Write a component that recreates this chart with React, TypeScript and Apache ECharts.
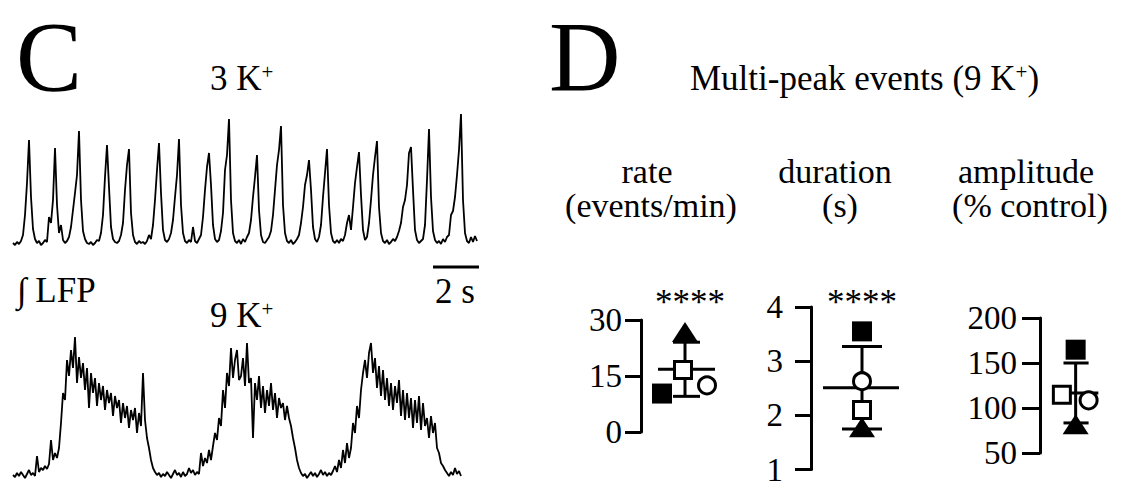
import React, { useEffect, useRef } from 'react';
import * as echarts from 'echarts';

const FONT = 'Liberation Serif';

// Panel C: integrated LFP traces (height above baseline, one sample every ~0.09 s)
const trace3K = [
  2, 0, 3, 1, 4, 10, 30, 62, 105, 48,
  16, 6, 2, 4, 0, 2, 5, 3, 28, 22,
  45, 97, 40, 12, 20, 5, 2, 4, 8, 18,
  35, 52, 70, 114, 45, 14, 6, 2, 1, 3,
  0, 2, 5, 4, 12, 30, 68, 100, 58, 18,
  6, 3, 2, 4, 10, 22, 55, 80, 96, 32,
  10, 3, 1, 4, 2, 3, 1, 4, 10, 6,
  20, 45, 75, 102, 52, 15, 5, 3, 6, 12,
  25, 48, 70, 106, 40, 12, 4, 2, 5, 3,
  18, 4, 2, 6, 10, 28, 55, 78, 92, 60,
  20, 6, 3, 5, 14, 32, 75, 90, 126, 45,
  12, 4, 2, 5, 1, 6, 3, 8, 12, 25,
  48, 68, 90, 35, 10, 3, 2, 5, 8, 14,
  30, 55, 80, 95, 119, 40, 12, 4, 2, 5,
  1, 3, 6, 10, 22, 38, 60, 70, 85, 55,
  18, 6, 3, 8, 20, 48, 72, 96, 40, 12,
  4, 2, 5, 2, 6, 4, 10, 22, 30, 15,
  38, 62, 78, 93, 50, 15, 5, 8, 22, 45,
  70, 88, 104, 38, 12, 4, 2, 5, 1, 3,
  6, 4, 8, 14, 22, 38, 45, 60, 92, 98,
  55, 15, 5, 2, 4, 6, 20, 65, 116, 48,
  14, 5, 2, 4, 1, 6, 3, 8, 10, 30,
  34, 48, 70, 95, 131, 45, 12, 4, 2, 8,
  3, 9, 4,
];

const trace9K = [
  3, 1, 5, 2, 6, 3, 0, 4, 8, 3,
  5, 2, 22, 6, 10, 8, 12, 9, 14, 38,
  18, 25, 20, 30, 55, 85, 78, 118, 102, 128,
  110, 141, 95, 121, 100, 115, 88, 110, 70, 105,
  85, 100, 72, 95, 78, 92, 68, 88, 75, 85,
  62, 82, 70, 78, 55, 75, 60, 72, 50, 68,
  58, 70, 45, 65, 52, 105, 58, 40, 30, 18,
  10, 6, 3, 5, 1, 4, 2, 6, 3, 0,
  4, 8, 3, 5, 1, 6, 2, 4, 10, 5,
  8, 3, 6, 4, 25, 12, 20, 15, 28, 18,
  32, 45, 38, 60, 52, 88, 70, 105, 92, 130,
  100, 118, 128, 98, 102, 120, 92, 135, 95, 100,
  40, 95, 78, 102, 70, 92, 65, 88, 72, 95,
  68, 85, 60, 80, 70, 75, 58, 72, 60, 52,
  40, 30, 18, 10, 5, 2, 4, 0, 3, 6,
  2, 5, 1, 4, 8, 3, 6, 2, 5, 3,
  7, 12, 6, 18, 10, 28, 15, 35, 20, 30,
  55, 45, 72, 60, 88, 105, 118, 100, 125, 135,
  105, 120, 90, 112, 82, 108, 78, 100, 72, 95,
  68, 92, 75, 98, 62, 88, 58, 85, 60, 80,
  50, 78, 55, 82, 48, 75, 52, 60, 40, 62,
  45, 55, 30, 25, 15, 12, 8, 5, 2, 6,
  3, 10, 4, 7, 2,
];

// Panel D: markers order = filled square, open square, filled triangle, open circle
const rateValues = [10.3, 16.6, 26.8, 12.5];
const durationValues = [3.55, 2.1, 1.78, 2.63];
const amplitudeValues = [164.8, 114.8, 82, 108.5];
const meanValues = [16.8, 2.51, 116.7];
const sdValues = [7.25, 0.76, 33.3];
const panelTitles = [
  ['rate', '(events/min)'],
  ['duration', '(s)'],
  ['amplitude', '(% control)'],
];
const yMins = [0, 1, 50];
const yMaxs = [30, 4, 200];
const yIntervals = [15, 1, 50];
const significance = ['****', '****', ''];

const panelValues = [rateValues, durationValues, amplitudeValues];

const layouts = [
  { left: 641, top: 320, height: 112, margin: 19, tick: 16, xs: [21, 42, 44, 66], bar: 44, mean: [17, 74], cap: [32, 59], titleX: [647, 651], starsX: 690 },
  { left: 811, top: 307, height: 168, margin: 28, tick: 16, xs: [51, 51, 51, 51], bar: 51, mean: [12, 88], cap: [31, 71], titleX: [835, 840], starsX: 862 },
  { left: 1040, top: 318, height: 135, margin: 23, tick: 18, xs: [44, 27, 44, 60], bar: 44, mean: [16, 72], cap: [29, 60], titleX: [1026, 1030], starsX: 0 },
];

const markerStyles = [
  { symbol: 'rect', symbolSize: [20, 20], itemStyle: { color: '#000', opacity: 1 } },
  { symbol: 'rect', symbolSize: [17, 17], itemStyle: { color: '#fff', borderColor: '#000', borderWidth: 3, opacity: 1 } },
  { symbol: 'triangle', symbolSize: [26, 20], itemStyle: { color: '#000', opacity: 1 } },
  { symbol: 'circle', symbolSize: [17, 17], itemStyle: { color: '#fff', borderColor: '#000', borderWidth: 3, opacity: 1 } },
];

function txt(text: string, x: number, y: number, size = 35, align = 'left', lineHeight?: number) {
  return {
    type: 'text',
    x,
    y,
    silent: true,
    style: {
      text, fill: '#000', fontSize: size, fontFamily: FONT, align, verticalAlign: 'middle',
      lineHeight: lineHeight ?? size,
    },
  };
}

function supTxt(main: string, tail: string, x: number, y: number) {
  return {
    type: 'text',
    x,
    y,
    silent: true,
    style: {
      text: `{m|${main}}{s|+}` + (tail ? `{m|${tail}}` : ''),
      fill: '#000',
      align: 'left',
      verticalAlign: 'middle',
      rich: {
        m: { fontSize: 35, fontFamily: FONT, fill: '#000', lineHeight: 34 },
        s: { fontSize: 21, fontFamily: FONT, fill: '#000', verticalAlign: 'top', lineHeight: 21 },
      },
    },
  };
}

export default function App() {
  const ref = useRef<HTMLDivElement>(null);

  useEffect(() => {
    if (!ref.current) return;
    const chart = echarts.init(ref.current, undefined, { renderer: 'svg' });

    const grids: any[] = [
      { left: 13, top: 110, width: 464, height: 140 },
      { left: 13, top: 328, width: 448, height: 155 },
    ];
    const xAxes: any[] = [
      { gridIndex: 0, type: 'value', min: 0, max: trace3K.length - 1, show: false },
      { gridIndex: 1, type: 'value', min: 0, max: trace9K.length - 1, show: false },
    ];
    const yAxes: any[] = [
      { gridIndex: 0, type: 'value', min: -5, max: 135, show: false },
      { gridIndex: 1, type: 'value', min: -5, max: 150, show: false },
    ];
    const series: any[] = [
      {
        type: 'line', xAxisIndex: 0, yAxisIndex: 0, showSymbol: false, silent: true,
        lineStyle: { color: '#000', width: 1.8 },
        data: trace3K.map((v, i) => [i, v]),
      },
      {
        type: 'line', xAxisIndex: 1, yAxisIndex: 1, showSymbol: false, silent: true,
        lineStyle: { color: '#000', width: 1.8 },
        data: trace9K.map((v, i) => [i, v]),
      },
    ];

    const graphics: any[] = [
      txt('C', 16, 56, 99, 'left', 76),
      txt('D', 549, 56, 99, 'left', 76),
      supTxt('3 K', '', 210, 78),
      supTxt('Multi-peak events (9 K', ')', 690, 78),
      txt('\u222B LFP', 17, 290, 35),
      txt('2 s', 455, 291, 35, 'center'),
      {
        type: 'line', silent: true,
        shape: { x1: 433, y1: 267, x2: 479, y2: 267 },
        style: { stroke: '#000', lineWidth: 3 },
      },
      supTxt('9 K', '', 210, 315),
    ];

    layouts.forEach((L, p) => {
      const gi = p + 2;
      grids.push({ left: L.left, top: L.top, width: 100, height: L.height });
      xAxes.push({ gridIndex: gi, type: 'value', min: 0, max: 100, show: false });
      yAxes.push({
        gridIndex: gi, type: 'value', min: yMins[p], max: yMaxs[p], interval: yIntervals[p],
        axisLine: { show: true, lineStyle: { color: '#000', width: 3 } },
        axisTick: { show: true, length: L.tick, lineStyle: { color: '#000', width: 3 } },
        axisLabel: { color: '#000', fontSize: 33, fontFamily: FONT, margin: L.margin, showMinLabel: true, showMaxLabel: true },
        splitLine: { show: false },
      });
      const m = meanValues[p];
      const sd = sdValues[p];
      series.push({
        type: 'custom', xAxisIndex: gi, yAxisIndex: gi, silent: true, clip: false, z: 2,
        data: [
          [L.mean[0], m, L.mean[1], m],
          [L.bar, m - sd, L.bar, m + sd],
          [L.cap[0], m + sd, L.cap[1], m + sd],
          [L.cap[0], m - sd, L.cap[1], m - sd],
        ],
        renderItem: (_params: any, api: any) => {
          const a = api.coord([api.value(0), api.value(1)]);
          const b = api.coord([api.value(2), api.value(3)]);
          return {
            type: 'line',
            shape: { x1: a[0], y1: a[1], x2: b[0], y2: b[1] },
            style: { stroke: '#000', lineWidth: 3 },
          };
        },
      });
      series.push({
        type: 'scatter', xAxisIndex: gi, yAxisIndex: gi, silent: true, z: 3,
        itemStyle: { opacity: 1 },
        data: panelValues[p].map((v, k) => ({
          value: [L.xs[k], v],
          symbol: markerStyles[k].symbol,
          symbolSize: markerStyles[k].symbolSize,
          itemStyle: markerStyles[k].itemStyle,
        })),
      });
      graphics.push(txt(panelTitles[p][0], L.titleX[0], 171, 34, 'center', 30));
      graphics.push(txt(panelTitles[p][1], L.titleX[1], 205, 34, 'center', 30));
      if (significance[p]) graphics.push(txt(significance[p], L.starsX, 302, 35, 'center'));
    });

    chart.setOption({
      animation: false,
      backgroundColor: '#fff',
      grid: grids,
      xAxis: xAxes,
      yAxis: yAxes,
      series,
      graphic: { elements: graphics },
    });

    return () => chart.dispose();
  }, []);

  return (
    <div
      ref={ref}
      style={{ position: 'fixed', left: 0, top: 0, width: 1121, height: 486, background: '#fff' }}
    />
  );
}
